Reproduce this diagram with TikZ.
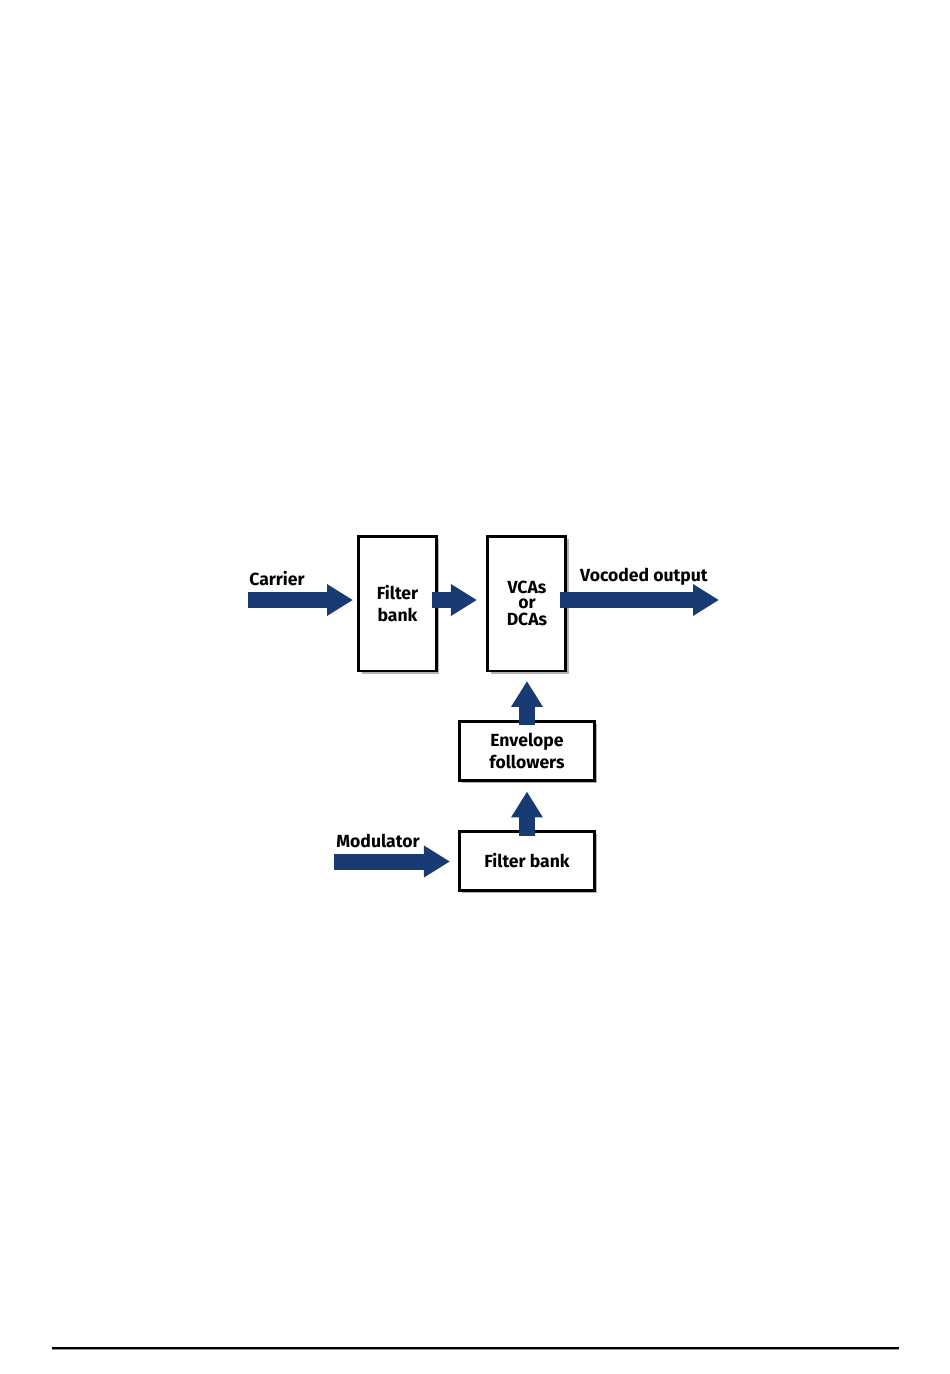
\documentclass[tikz,border=0pt]{standalone}
\usepackage{fontspec}
\setmainfont{Fira Sans}
\usepackage{tikz}
\usetikzlibrary{arrows.meta, shadows}
\definecolor{vocblue}{RGB}{24,59,115}
\tikzstyle{block} = [rectangle, draw=black, line width=0.06cm, fill=white, align=center, font=\bfseries, drop shadow={shadow xshift=0.06cm, shadow yshift=-0.06cm, fill=black!30, opacity=1}]
\tikzstyle{tallblock} = [block, minimum width=1.56cm, minimum height=2.7cm]
\tikzstyle{wideblock} = [block, minimum width=2.7cm, minimum height=1.18cm]
\tikzstyle{label} = [font=\bfseries, inner sep=0pt]
\tikzstyle{fatarrow} = [draw=vocblue, line width=0.32cm, -{Triangle[length=0.52cm, width=0.6cm]}, vocblue]

\begin{document}
\begin{tikzpicture}[x=0.02cm, y=-0.02cm, node distance=2.2cm]
        \useasboundingbox (0,0) rectangle (950,1374);

        \node (fbcarrier) [tallblock] at (397.5,603.5) {Filter\\bank};
        \node (vca) [tallblock, right of=fbcarrier, xshift=0.39cm] {VCAs\\[-3.5pt]or\\[-2pt]DCAs};
        \node (envfollow) [wideblock, below of=vca, yshift=-0.75cm] {Envelope\\followers};
        \node (fbmod) [wideblock, below of=envfollow] {Filter bank};

        \node (carrierlbl) [label] at (277,579) {Carrier};
        \node (outputlbl) [label] at (644,577) {Vocoded output};
        \node (modlbl) [label] at (378,841) {Modulator};

        \coordinate (carrierin) at (248,600);
        \coordinate (vocout) at (719,600);
        \coordinate (modin) at (334,861.5);

        \draw [fatarrow, shorten >=0.08cm] (carrierin) -- (fbcarrier.west |- carrierin);
        \draw [fatarrow, shorten >=0.19cm] ([xshift=-0.11cm]fbcarrier.east |- carrierin) -- (vca.west |- carrierin);
        \draw [fatarrow] ([xshift=-0.15cm]vca.east |- vocout) -- (vocout);
        \draw [fatarrow, shorten >=0.17cm] ([yshift=-0.11cm]envfollow.north) -- (vca.south);
        \draw [fatarrow, shorten >=0.19cm] ([yshift=-0.13cm]fbmod.north) -- (envfollow.south);
        \draw [fatarrow, shorten >=0.16cm] (modin) -- (fbmod.west |- modin);

        % rule at the foot of the page
        \draw [black!40, line width=0.03cm] (52,1349.5) -- (899,1349.5);
        \draw [black, line width=0.03cm] (52,1348) -- (899,1348);
\end{tikzpicture}
\end{document}
